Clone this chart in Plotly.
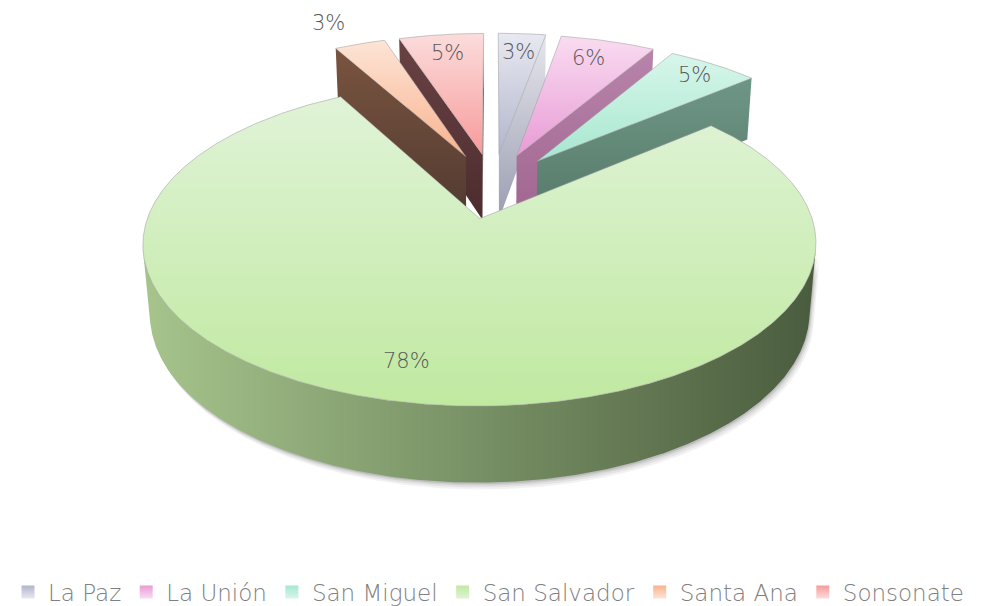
import numpy as np
import plotly.graph_objects as go

# ---------------- data ----------------
categories = ["La Paz", "La Unión", "San Miguel", "San Salvador", "Santa Ana", "Sonsonate"]
values = [2.8, 5.6, 5.4, 78.2, 3.0, 5.0]   # shares (%)

# ---------------- styles ----------------
top_light = ["#e8e9f1", "#f9dcf1", "#d8f6eb", "#e0f3d7", "#fde4d6", "#fcdcdc"]
top_dark = ["#b2b5cd", "#e99bd6", "#a6e7cf", "#c0e9a0", "#f8b38e", "#f79b9b"]
wall_light = ["#e6e6ec", "#b884aa", "#6e9686", "#a6c48c", "#7a5440", "#6a4244"]
wall_dark = ["#9a9db2", "#a06590", "#557868", "#4a5c3e", "#503a30", "#4c2c2e"]
label_r = [0.83, 0.83, 0.88, 0.81, 1.23, 0.83]
label_dth = [0.0, -1.5, 0.0, 3.0, -2.0, 0.0]

W, H = 985, 606
CX, CY = 485.0, 179.0
S = 321.5
ALPHA = np.radians(27.65)
DIST = 5.85
DEPTH = 0.241
EXPLODE = 0.22
SA, CA = np.sin(ALPHA), np.cos(ALPHA)
CAM = np.array([0.0, -DIST * CA, DIST * SA])
FONT = "DejaVu Sans"


def proj(X, Y, Z):
    X = np.asarray(X, float)
    Y = np.asarray(Y, float)
    Z = np.asarray(Z, float)
    yc = Y * SA + Z * CA
    zc = DIST + Y * CA - Z * SA
    f = DIST / zc
    return CX + S * X * f, H - (CY - S * yc * f)


total = float(sum(values))
bounds = np.concatenate([[0.0], np.cumsum(values)]) / total * 360.0
slices = []
for i, v in enumerate(values):
    t0, t1 = np.radians(bounds[i]), np.radians(bounds[i + 1])
    tm = 0.5 * (t0 + t1)
    ox, oy = EXPLODE * np.sin(tm), EXPLODE * np.cos(tm)
    slices.append(dict(i=i, t0=t0, t1=t1, tm=tm, ox=ox, oy=oy,
                       depth=oy + 0.5 * np.cos(tm)))

fig = go.Figure()


def poly(xs, ys, grad_type, c0, c1, line=None, fillcolor=None):
    xs = list(xs) + [xs[0]]
    ys = list(ys) + [ys[0]]
    kw = {}
    if grad_type is not None:
        if grad_type == "vertical":
            start, stop = min(ys), max(ys)
        else:
            start, stop = min(xs), max(xs)
        kw["fillgradient"] = dict(type=grad_type, colorscale=[[0, c0], [1, c1]],
                                  start=start, stop=stop)
    else:
        kw["fillcolor"] = fillcolor
    fig.add_trace(go.Scatter(
        x=xs, y=ys, mode="lines", fill="toself",
        line=line if line else dict(width=0, color="rgba(0,0,0,0)"),
        hoverinfo="skip", showlegend=False, **kw))


def visible(P, n):
    return float(np.dot(CAM - P, n)) > 0


for sl in sorted(slices, key=lambda d: -d["depth"]):
    i = sl["i"]
    t0, t1, ox, oy = sl["t0"], sl["t1"], sl["ox"], sl["oy"]
    th = np.linspace(t0, t1, max(int(np.degrees(t1 - t0) * 4), 8))
    AX, AY = ox + np.sin(th), oy + np.cos(th)

    # radial faces
    for t, n in ((t0, np.array([-np.cos(t0), np.sin(t0), 0.0])),
                 (t1, np.array([np.cos(t1), -np.sin(t1), 0.0]))):
        P = np.array([ox + 0.5 * np.sin(t), oy + 0.5 * np.cos(t), -DEPTH / 2])
        if visible(P, n):
            qx = [ox, ox + np.sin(t), ox + np.sin(t), ox]
            qy = [oy, oy + np.cos(t), oy + np.cos(t), oy]
            qz = [0, 0, -DEPTH, -DEPTH]
            sx, sy = proj(qx, qy, qz)
            cl, cd = wall_light[i], wall_dark[i]
            if i == 0 and t == t0:
                cl, cd = "#f4f4f6", "#d0d2dc"
            poly(sx, sy, "vertical", cd, cl)

    # outer wall
    vis = (-ox * np.sin(th) - (DIST * CA + oy) * np.cos(th) - 1) > 0
    if vis.any():
        tv = th[vis]
        wx, wy = ox + np.sin(tv), oy + np.cos(tv)
        tx, ty = proj(wx, wy, np.zeros_like(tv))
        bx, by = proj(wx, wy, np.full_like(tv, -DEPTH))
        xs = np.concatenate([tx, bx[::-1]])
        ys = np.concatenate([ty, by[::-1]])
        for k, a in ((7, 0.05), (5, 0.06), (3, 0.08), (1.5, 0.10)):
            poly(xs + 0.6 * k, ys - k, None, None, None,
                 fillcolor="rgba(0,0,0,%.3f)" % a)
        poly(xs, ys, "horizontal", wall_light[i], wall_dark[i])

    # top face
    sx, sy = proj(np.concatenate([[ox], AX]), np.concatenate([[oy], AY]),
                  np.zeros(len(th) + 1))
    poly(sx, sy, "vertical", top_dark[i], top_light[i],
         line=dict(width=0.8, color="rgba(160,160,160,0.7)"))

# labels
annotations = []
for sl in slices:
    i = sl["i"]
    tl = sl["tm"] + np.radians(label_dth[i])
    lx, ly = proj(sl["ox"] + label_r[i] * np.sin(tl),
                  sl["oy"] + label_r[i] * np.cos(tl), 0.0)
    annotations.append(dict(x=float(lx), y=float(ly), text=f"{round(values[i])}%",
                            showarrow=False, xref="x", yref="y",
                            font=dict(size=21, color="#595959", family=FONT,
                                      weight=300)))

# legend entries
for i, name in enumerate(categories):
    fig.add_trace(go.Scatter(
        x=[None], y=[None], mode="markers", name=name,
        marker=dict(symbol="square", size=13, color=top_dark[i],
                    gradient=dict(type="vertical", color=top_light[i])),
        hoverinfo="skip"))

fig.update_layout(
    width=W, height=H,
    margin=dict(l=0, r=0, t=0, b=0),
    paper_bgcolor="white", plot_bgcolor="white",
    xaxis=dict(range=[0, W], visible=False, fixedrange=True),
    yaxis=dict(range=[0, H], visible=False, fixedrange=True),
    annotations=annotations,
    showlegend=True,
    legend=dict(orientation="h", x=0.0, xanchor="left", y=0.028, yanchor="middle",
                font=dict(size=23, color="#808080", family=FONT, weight=200),
                bgcolor="rgba(0,0,0,0)", itemclick=False, itemdoubleclick=False),
)

fig.write_html("out.html")
